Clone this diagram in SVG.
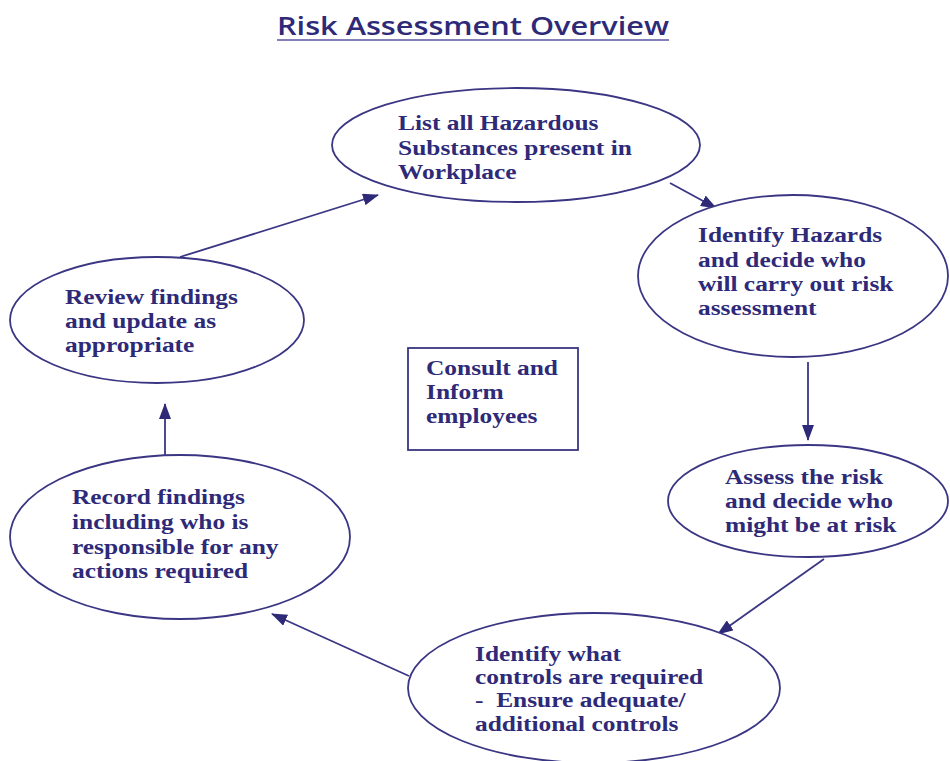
<svg xmlns="http://www.w3.org/2000/svg" width="950" height="761" viewBox="0 0 950 761">
<style>
.bg{fill:#ffffff}
.node ellipse,.node rect{fill:#ffffff;stroke:#3a3683;stroke-width:1.8}
.lbl{font-family:"Liberation Serif","Times New Roman",serif;font-weight:bold;font-size:20px;fill:#2e2a78}
.title{font-family:"Open Sans","Liberation Sans",sans-serif;font-weight:600;font-size:25px;fill:#2e2a78}
#connectors line{stroke:#3a3683;stroke-width:1.8;fill:none;marker-end:url(#ah)}
</style>
<defs>
<marker id="ah" viewBox="0 0 16 12" refX="15" refY="6" markerWidth="16" markerHeight="12" markerUnits="userSpaceOnUse" orient="auto">
<path d="M0,0 L16,6 L0,12 Z" fill="#2e2a78"/>
</marker>
</defs>
<rect class="bg" x="0" y="0" width="950" height="761"/>
<g id="title">
<text class="title" x="277" y="35" textLength="392" lengthAdjust="spacingAndGlyphs">Risk Assessment Overview</text>
<line x1="277" y1="40" x2="669" y2="40" stroke="#5a55a0" stroke-width="1.6"/>
</g>
<g id="connectors">
<line x1="180" y1="257" x2="378" y2="195"/>
<line x1="670" y1="183" x2="716" y2="208"/>
<line x1="808" y1="362" x2="808" y2="440"/>
<line x1="824" y1="559" x2="718" y2="634"/>
<line x1="409" y1="676" x2="272" y2="614"/>
<line x1="165" y1="455" x2="165" y2="404"/>
</g>
<g id="node-list" class="node">
<ellipse cx="516" cy="145" rx="184" ry="57"/>
<g transform="translate(398 0) scale(1.27 1)">
<text class="lbl" x="0" y="130">List all Hazardous</text>
<text class="lbl" x="0" y="155">Substances present in</text>
<text class="lbl" x="0" y="179">Workplace</text>
</g>
</g>
<g id="node-identify-hazards" class="node">
<ellipse cx="793" cy="276" rx="155" ry="81"/>
<g transform="translate(698 0) scale(1.27 1)">
<text class="lbl" x="0" y="242">Identify Hazards</text>
<text class="lbl" x="0" y="267">and decide who</text>
<text class="lbl" x="0" y="291">will carry out risk</text>
<text class="lbl" x="0" y="315">assessment</text>
</g>
</g>
<g id="node-assess" class="node">
<ellipse cx="808" cy="501" rx="140" ry="56"/>
<g transform="translate(725 0) scale(1.27 1)">
<text class="lbl" x="0" y="484">Assess the risk</text>
<text class="lbl" x="0" y="508">and decide who</text>
<text class="lbl" x="0" y="532">might be at risk</text>
</g>
</g>
<g id="node-controls" class="node">
<ellipse cx="594" cy="688" rx="186" ry="75"/>
<g transform="translate(475 0) scale(1.27 1)">
<text class="lbl" x="0" y="661">Identify what</text>
<text class="lbl" x="0" y="684">controls are required</text>
<text class="lbl" x="0" y="707" xml:space="preserve">-  Ensure adequate/</text>
<text class="lbl" x="0" y="731">additional controls</text>
</g>
</g>
<g id="node-record" class="node">
<ellipse cx="180" cy="537" rx="170" ry="82"/>
<g transform="translate(72 0) scale(1.27 1)">
<text class="lbl" x="0" y="504">Record findings</text>
<text class="lbl" x="0" y="529">including who is</text>
<text class="lbl" x="0" y="554">responsible for any</text>
<text class="lbl" x="0" y="578">actions required</text>
</g>
</g>
<g id="node-review" class="node">
<ellipse cx="157" cy="320" rx="147" ry="63"/>
<g transform="translate(65 0) scale(1.27 1)">
<text class="lbl" x="0" y="304">Review findings</text>
<text class="lbl" x="0" y="328">and update as</text>
<text class="lbl" x="0" y="352">appropriate</text>
</g>
</g>
<g id="node-consult" class="node">
<rect x="408" y="348" width="170" height="102"/>
<g transform="translate(426 0) scale(1.27 1)">
<text class="lbl" x="0" y="375">Consult and</text>
<text class="lbl" x="0" y="399">Inform</text>
<text class="lbl" x="0" y="423">employees</text>
</g>
</g>
</svg>
